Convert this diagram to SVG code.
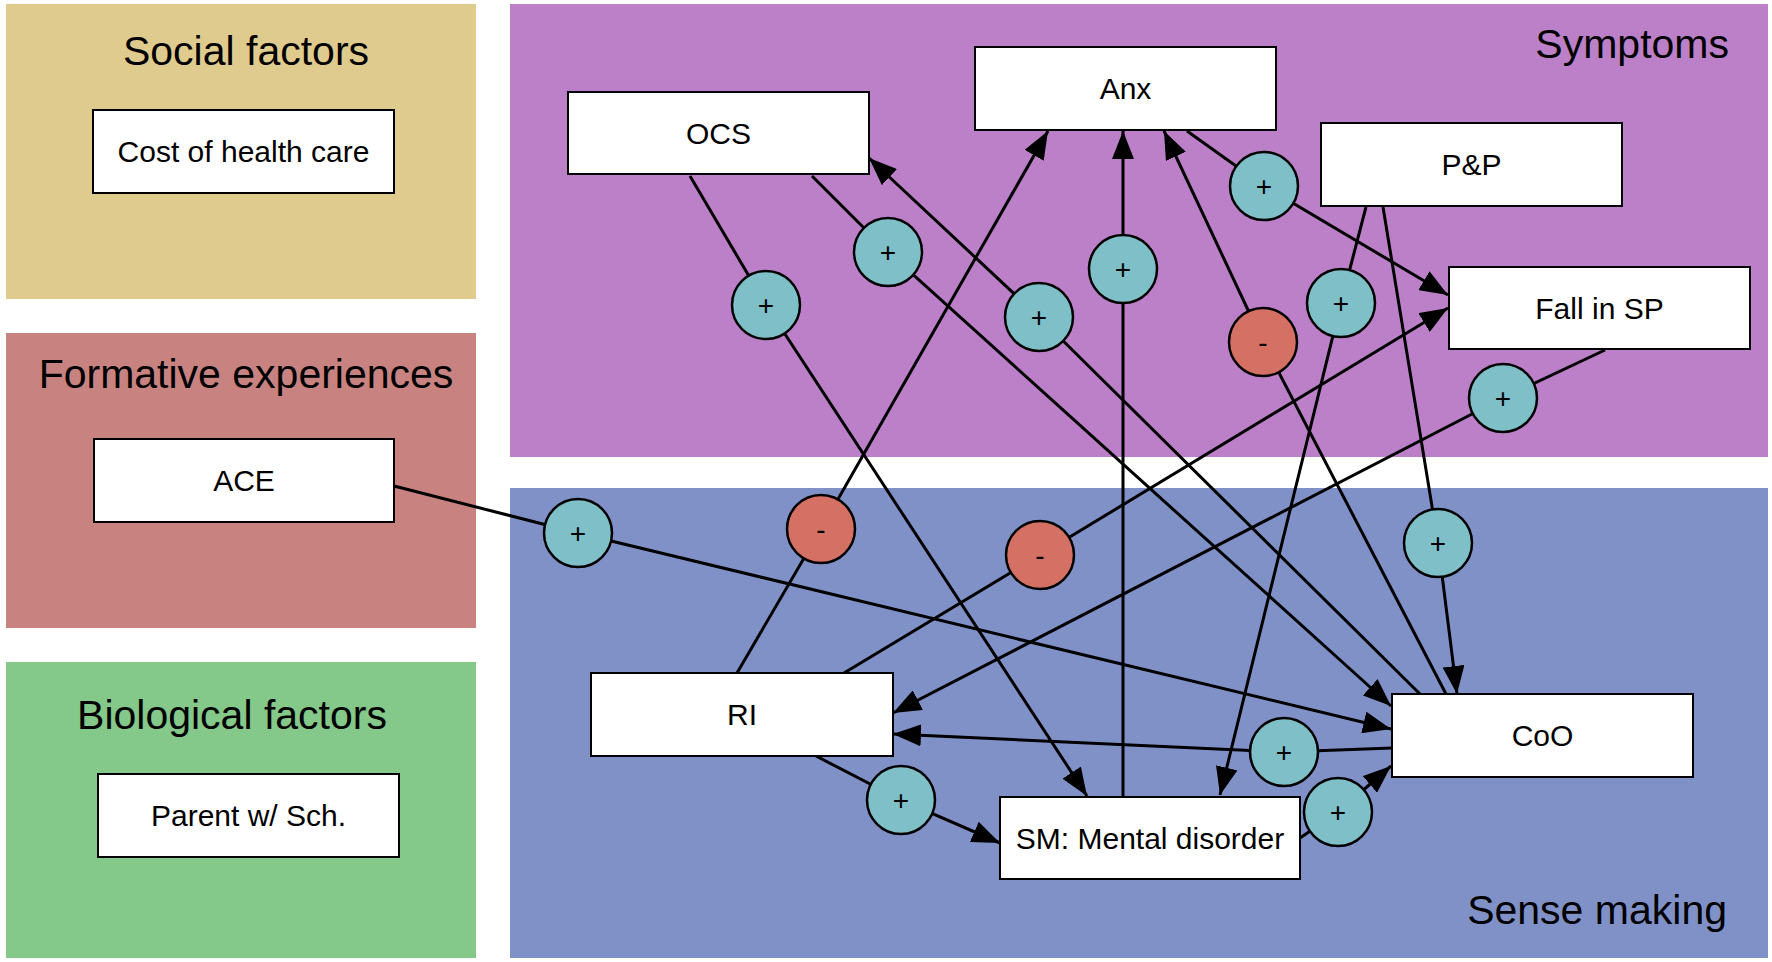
<svg xmlns="http://www.w3.org/2000/svg" width="1772" height="962" viewBox="0 0 1772 962">
<style>
  .title { font-family: "Liberation Sans", Arial, sans-serif; font-size: 41px; fill: #000; }
  .box { fill: #fff; stroke: #000; stroke-width: 2; }
  .lbl { font-family: "Liberation Sans", Arial, sans-serif; font-size: 30px; fill: #000; text-anchor: middle; }
  .edge { fill: none; stroke: #000; stroke-width: 3; marker-end: url(#arr); }
  .pos { fill: #7EBFC8; stroke: #000; stroke-width: 2.5; }
  .neg { fill: #D57064; stroke: #000; stroke-width: 2.5; }
  .sign { font-family: "Liberation Sans", Arial, sans-serif; font-size: 28px; fill: #000; text-anchor: middle; }
</style>
<defs>
  <marker id="arr" markerUnits="userSpaceOnUse" viewBox="0 0 28 22" markerWidth="28" markerHeight="22" refX="28" refY="11" orient="auto">
    <path d="M0,0 L28,11 L0,22 z" fill="#000"/>
  </marker>
</defs>
<rect x="0" y="0" width="1772" height="962" fill="#fff"/>

<g id="panel-social">
  <rect x="6" y="4" width="470" height="295" fill="#E0CB8E"/>
  <text class="title" x="246" y="65" text-anchor="middle">Social factors</text>
</g>
<g id="panel-formative">
  <rect x="6" y="333" width="470" height="295" fill="#C88381"/>
  <text class="title" x="246" y="388" text-anchor="middle">Formative experiences</text>
</g>
<g id="panel-biological">
  <rect x="6" y="662" width="470" height="296" fill="#84C88A"/>
  <text class="title" x="232" y="729" text-anchor="middle">Biological factors</text>
</g>
<g id="panel-symptoms">
  <rect x="510" y="4" width="1258" height="453" fill="#BC80C8"/>
  <text class="title" x="1729" y="58" text-anchor="end">Symptoms</text>
</g>
<g id="panel-sense">
  <rect x="510" y="488" width="1258" height="470" fill="#8091C8"/>
  <text class="title" x="1727" y="924" text-anchor="end">Sense making</text>
</g>

<g id="connectors">
  <polyline id="e-ocs-sm" class="edge" points="690,176 766,305 1087,796"/>
  <polyline id="e-ocs-coo" class="edge" points="812,176 888,252 1391,706"/>
  <polyline id="e-coo-ocs" class="edge" points="1420,694 1039,317 869,158"/>
  <polyline id="e-sm-anx" class="edge" points="1123,797 1123,269 1123,131"/>
  <polyline id="e-anx-fall" class="edge" points="1187,131 1264,186 1448,295"/>
  <polyline id="e-coo-anx" class="edge" points="1446,694 1263,342 1164,131"/>
  <polyline id="e-pp-sm" class="edge" points="1366,207 1341,303 1220,795"/>
  <polyline id="e-fall-ri" class="edge" points="1605,350 1503,398 893,713"/>
  <polyline id="e-ace-coo" class="edge" points="394,486 578,533 1391,729"/>
  <polyline id="e-ri-anx" class="edge" points="737,673 821,529 1048,131"/>
  <polyline id="e-ri-fall" class="edge" points="844,673 1040,555 1448,308"/>
  <polyline id="e-pp-coo" class="edge" points="1383,207 1438,543 1457,694"/>
  <polyline id="e-coo-ri" class="edge" points="1392,748 1284,752 893,734"/>
  <polyline id="e-sm-coo" class="edge" points="1300,838 1338,812 1391,766"/>
  <polyline id="e-ri-sm" class="edge" points="816,756 901,800 1000,843"/>
</g>

<g id="signs">
  <g><circle class="pos" cx="766" cy="305" r="34"/><text class="sign" x="766" y="315">+</text></g>
  <g><circle class="pos" cx="888" cy="252" r="34"/><text class="sign" x="888" y="262">+</text></g>
  <g><circle class="pos" cx="1039" cy="317" r="34"/><text class="sign" x="1039" y="327">+</text></g>
  <g><circle class="pos" cx="1123" cy="269" r="34"/><text class="sign" x="1123" y="279">+</text></g>
  <g><circle class="pos" cx="1264" cy="186" r="34"/><text class="sign" x="1264" y="196">+</text></g>
  <g><circle class="neg" cx="1263" cy="342" r="34"/><text class="sign" x="1263" y="352">-</text></g>
  <g><circle class="pos" cx="1341" cy="303" r="34"/><text class="sign" x="1341" y="313">+</text></g>
  <g><circle class="pos" cx="1503" cy="398" r="34"/><text class="sign" x="1503" y="408">+</text></g>
  <g><circle class="pos" cx="578" cy="533" r="34"/><text class="sign" x="578" y="543">+</text></g>
  <g><circle class="neg" cx="821" cy="529" r="34"/><text class="sign" x="821" y="539">-</text></g>
  <g><circle class="neg" cx="1040" cy="555" r="34"/><text class="sign" x="1040" y="565">-</text></g>
  <g><circle class="pos" cx="1438" cy="543" r="34"/><text class="sign" x="1438" y="553">+</text></g>
  <g><circle class="pos" cx="1284" cy="752" r="34"/><text class="sign" x="1284" y="762">+</text></g>
  <g><circle class="pos" cx="1338" cy="812" r="34"/><text class="sign" x="1338" y="822">+</text></g>
  <g><circle class="pos" cx="901" cy="800" r="34"/><text class="sign" x="901" y="810">+</text></g>
</g>

<g id="node-cost"><rect class="box" x="93" y="110" width="301" height="83"/><text class="lbl" x="243.5" y="162">Cost of health care</text></g>
<g id="node-ace"><rect class="box" x="94" y="439" width="300" height="83"/><text class="lbl" x="244" y="491">ACE</text></g>
<g id="node-parent"><rect class="box" x="98" y="774" width="301" height="83"/><text class="lbl" x="248.5" y="826">Parent w/ Sch.</text></g>
<g id="node-ocs"><rect class="box" x="568" y="92" width="301" height="82"/><text class="lbl" x="718.5" y="144">OCS</text></g>
<g id="node-anx"><rect class="box" x="975" y="47" width="301" height="83"/><text class="lbl" x="1125.5" y="99">Anx</text></g>
<g id="node-pp"><rect class="box" x="1321" y="123" width="301" height="83"/><text class="lbl" x="1471.5" y="175">P&amp;P</text></g>
<g id="node-fall"><rect class="box" x="1449" y="267" width="301" height="82"/><text class="lbl" x="1599.5" y="319">Fall in SP</text></g>
<g id="node-ri"><rect class="box" x="591" y="673" width="302" height="83"/><text class="lbl" x="742" y="725">RI</text></g>
<g id="node-sm"><rect class="box" x="1000" y="797" width="300" height="82"/><text class="lbl" x="1150" y="849">SM: Mental disorder</text></g>
<g id="node-coo"><rect class="box" x="1392" y="694" width="301" height="83"/><text class="lbl" x="1542.5" y="746">CoO</text></g>
</svg>
